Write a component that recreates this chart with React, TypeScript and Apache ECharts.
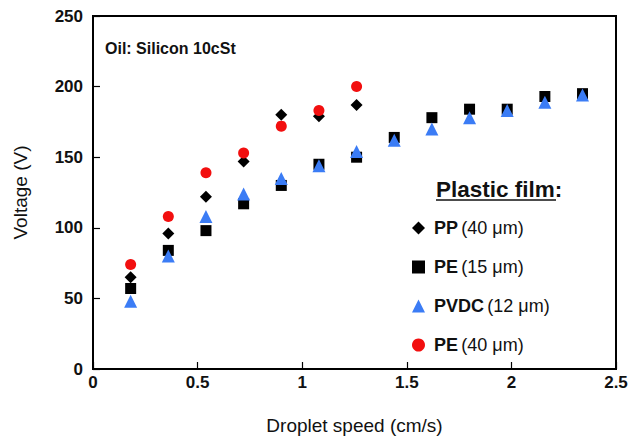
import React, { useEffect, useRef } from "react";
import * as echarts from "echarts";

const speeds = [0.18, 0.36, 0.54, 0.72, 0.9, 1.08, 1.26, 1.44, 1.62, 1.8, 1.98, 2.16, 2.34];
const ppVals = [65, 96, 122, 147, 180, 179, 187];
const pe15Vals = [57, 84, 98, 117, 130, 145, 150, 164, 178, 184, 184, 193, 195];
const pvdcVals = [48, 80, 108, 124, 135, 144, 154, 162, 170, 178, 183, 189, 194];
const pe40Vals = [74, 108, 139, 153, 172, 183, 200];

const seriesNames = ["PP", "PE15", "PVDC", "PE40"];
const legendBold: Record<string, string> = { PP: "PP", PE15: "PE", PVDC: "PVDC", PE40: "PE" };
const legendNormal: Record<string, string> = {
  PP: "(40 μm)",
  PE15: "(15 μm)",
  PVDC: "(12 μm)",
  PE40: "(40 μm)",
};

const FONT = "Liberation Sans, Arial, Helvetica, sans-serif";

function pairs(vals: number[]) {
  return vals.map((v, i) => [speeds[i], v]);
}

export default function App() {
  const ref = useRef<HTMLDivElement>(null);
  useEffect(() => {
    document.body.style.margin = "0";
    if (!ref.current) return;
    const chart = echarts.init(ref.current, undefined, { renderer: "svg" });
    chart.setOption({
      animation: false,
      grid: { left: 93, right: 14, top: 16, bottom: 68, outerBoundsMode: "none", containLabel: false },
      xAxis: {
        type: "value",
        min: 0,
        max: 2.5,
        interval: 0.5,
        name: "Droplet speed (cm/s)",
        nameLocation: "middle",
        nameGap: 47,
        nameTextStyle: { fontFamily: FONT, fontSize: 19, color: "#111" },
        axisLine: { show: true, onZero: false, lineStyle: { color: "black", width: 2 } },
        axisTick: { show: true, inside: false, length: -7, lineStyle: { color: "black", width: 1.2 } },
        axisLabel: {
          fontFamily: FONT,
          fontSize: 17,
          fontWeight: "bold",
          color: "#111",
          margin: 5,
          formatter: (v: number) => String(v),
        },
        splitLine: { show: false },
      },
      yAxis: {
        type: "value",
        min: 0,
        max: 250,
        interval: 50,
        name: "Voltage (V)",
        nameLocation: "middle",
        nameGap: 63,
        nameTextStyle: { fontFamily: FONT, fontSize: 19, color: "#111" },
        axisLine: { show: true, onZero: false, lineStyle: { color: "black", width: 2 } },
        axisTick: { show: true, inside: false, length: -7, lineStyle: { color: "black", width: 1.2 } },
        axisLabel: {
          fontFamily: FONT,
          fontSize: 17,
          fontWeight: "bold",
          color: "#111",
          margin: 10,
        },
        splitLine: { show: false },
      },
      legend: {
        orient: "vertical",
        left: 407,
        top: 214,
        itemGap: 21,
        itemWidth: 13,
        itemHeight: 13,
        data: seriesNames,
        formatter: (name: string) => `{b|${legendBold[name]}} {n|${legendNormal[name]}}`,
        textStyle: {
          padding: [0, 0, 0, 4],
          rich: {
            b: { fontFamily: FONT, fontSize: 18, fontWeight: "bold", color: "#111", height: 22 },
            n: { fontFamily: FONT, fontSize: 18, color: "#111", height: 22 },
          },
        },
      },
      graphic: [
        {
          type: "rect",
          shape: { x: 93, y: 16, width: 523, height: 353 },
          style: { fill: "none", stroke: "#000", lineWidth: 2 },
          silent: true,
          z: 0,
        },
        {
          type: "text",
          left: 105,
          top: 40,
          style: {
            text: "Oil: Silicon 10cSt",
            font: `bold 16px ${FONT}`,
            fill: "#111",
          },
        },
        {
          type: "text",
          left: 436,
          top: 178,
          style: {
            text: "Plastic film:",
            font: `bold 22.5px ${FONT}`,
            fill: "#111",
          },
        },
        {
          type: "line",
          shape: { x1: 436, y1: 200, x2: 556, y2: 200 },
          style: { stroke: "#111", lineWidth: 1.5 },
        },
      ],
      series: [
        {
          name: "PP",
          type: "scatter",
          symbol: "diamond",
          symbolSize: 12,
          itemStyle: { color: "#000", opacity: 1 },
          data: pairs(ppVals),
        },
        {
          name: "PE15",
          type: "scatter",
          symbol: "rect",
          symbolSize: 11,
          itemStyle: { color: "#000", opacity: 1 },
          data: pairs(pe15Vals),
        },
        {
          name: "PVDC",
          type: "scatter",
          symbol: "triangle",
          symbolSize: 13,
          itemStyle: { color: "#3b7cf5", opacity: 1 },
          data: pairs(pvdcVals),
        },
        {
          name: "PE40",
          type: "scatter",
          symbol: "circle",
          symbolSize: 11,
          itemStyle: { color: "#f20f0f", opacity: 1 },
          data: pairs(pe40Vals),
        },
      ],
    });
    return () => chart.dispose();
  }, []);
  return <div ref={ref} style={{ width: 630, height: 437 }} />;
}
